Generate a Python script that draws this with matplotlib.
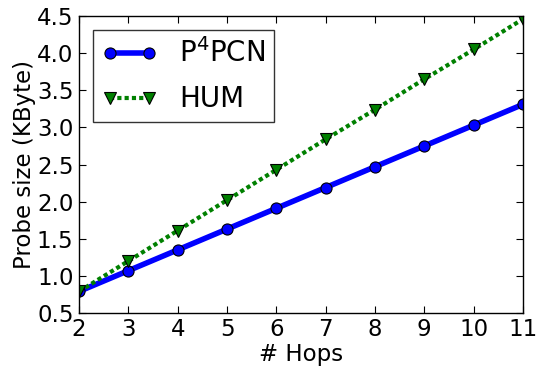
import matplotlib
matplotlib.use("Agg")
import matplotlib.pyplot as plt

hops = [2, 3, 4, 5, 6, 7, 8, 9, 10, 11]
p4pcn = [0.79, 1.07, 1.35, 1.63, 1.91, 2.19, 2.47, 2.75, 3.03, 3.31]
hum = [0.79, 1.20, 1.61, 2.02, 2.43, 2.84, 3.24, 3.65, 4.05, 4.46]

plt.rcParams["mathtext.default"] = "regular"

fig = plt.figure(figsize=(5.38, 3.66), dpi=100)
ax = fig.add_axes([0.147, 0.145, 0.825, 0.811])

ax.plot(hops, p4pcn, color="blue", linestyle="-", linewidth=4, marker="o",
        markersize=8, markeredgecolor="black", markeredgewidth=0.8, label="P$^4$PCN")
ax.plot(hops, hum, color="green", linestyle=(0, (1, 0.75)), linewidth=3,
        dash_capstyle="butt", marker="v", markersize=8, markeredgecolor="black",
        markeredgewidth=0.8, label="HUM")

ax.set_xlim(2, 11)
ax.set_ylim(0.5, 4.5)
ax.set_xticks(hops)
ax.set_yticks([0.5, 1.0, 1.5, 2.0, 2.5, 3.0, 3.5, 4.0, 4.5])
ax.tick_params(direction="in", top=True, right=True, labelsize=16.5, length=5, pad=4)
for s in ax.spines.values():
    s.set_linewidth(1.0)
ax.set_xlabel("# Hops", fontsize=16.5, labelpad=1)
ax.set_ylabel("Probe size (KByte)", fontsize=16.5, labelpad=1)

leg = ax.legend(loc="upper left", fontsize=20, fancybox=False, borderaxespad=0.5,
                handlelength=2.0, handletextpad=0.8, numpoints=2, borderpad=0.3,
                labelspacing=0.62)
leg.get_frame().set_edgecolor("black")
leg.get_frame().set_linewidth(1.0)

fig.savefig("out.png", dpi=100)
